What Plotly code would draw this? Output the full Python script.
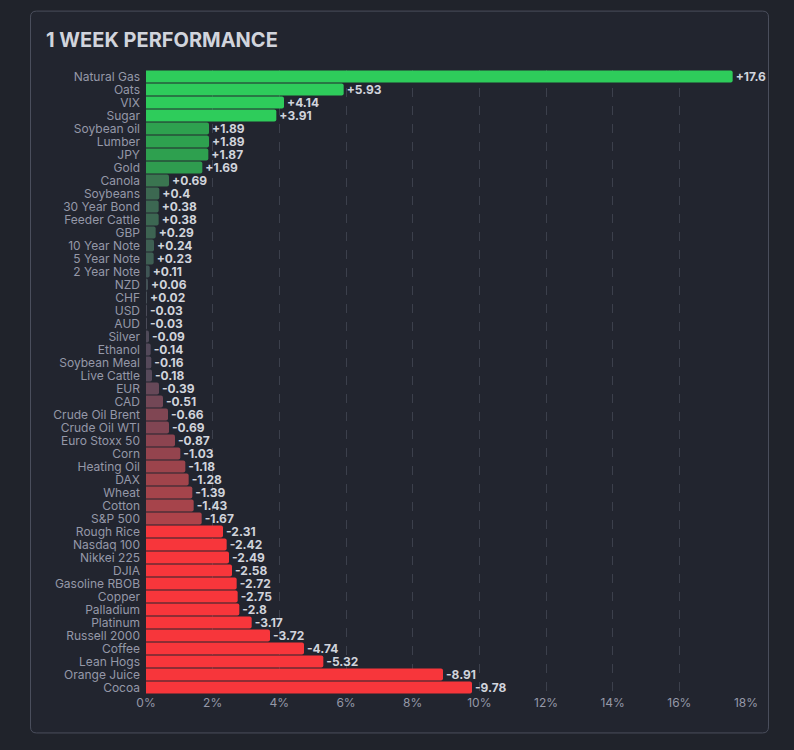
import plotly.graph_objects as go

categories = ["Natural Gas", "Oats", "VIX", "Sugar", "Soybean oil", "Lumber", "JPY", "Gold",
              "Canola", "Soybeans", "30 Year Bond", "Feeder Cattle", "GBP", "10 Year Note",
              "5 Year Note", "2 Year Note", "NZD", "CHF", "USD", "AUD", "Silver", "Ethanol",
              "Soybean Meal", "Live Cattle", "EUR", "CAD", "Crude Oil Brent", "Crude Oil WTI",
              "Euro Stoxx 50", "Corn", "Heating Oil", "DAX", "Wheat", "Cotton", "S&P 500",
              "Rough Rice", "Nasdaq 100", "Nikkei 225", "DJIA", "Gasoline RBOB", "Copper",
              "Palladium", "Platinum", "Russell 2000", "Coffee", "Lean Hogs", "Orange Juice", "Cocoa"]
changes = [17.6, 5.93, 4.14, 3.91, 1.89, 1.89, 1.87, 1.69,
           0.69, 0.4, 0.38, 0.38, 0.29, 0.24,
           0.23, 0.11, 0.06, 0.02, -0.03, -0.03, -0.09, -0.14,
           -0.16, -0.18, -0.39, -0.51, -0.66, -0.69,
           -0.87, -1.03, -1.18, -1.28, -1.39, -1.43, -1.67,
           -2.31, -2.42, -2.49, -2.58, -2.72, -2.75,
           -2.8, -3.17, -3.72, -4.74, -5.32, -8.91, -9.78]
x_ticks = [0, 2, 4, 6, 8, 10, 12, 14, 16, 18]
x_tick_labels = ["0%", "2%", "4%", "6%", "8%", "10%", "12%", "14%", "16%", "18%"]

magnitudes = [abs(v) for v in changes]
labels = [f"{v:+g}" for v in changes]

# value -> colour, cmin=-3, cmax=3 ; normalized n = (v+3)/6
def n(v):
    return (v + 3) / 6

colorscale = [
    [0.0, "#f7363b"],
    [n(-2.0), "#f7363b"],
    [n(-1.999), "#b6434a"],
    [n(-1.3), "#a2444b"],
    [n(-0.87), "#8c4450"],
    [n(-0.6), "#7c4654"],
    [n(-0.39), "#664858"],
    [n(-0.15), "#54495a"],
    [n(0.0), "#474c58"],
    [n(0.11), "#3f5555"],
    [n(0.3), "#3d6452"],
    [n(0.69), "#3a7550"],
    [n(1.2), "#348a50"],
    [n(1.69), "#2f9c4f"],
    [n(1.999), "#2ea34f"],
    [n(2.0), "#2ecc5b"],
    [1.0, "#2ecc5b"],
]

W, H = 786, 742
pl, pr, pt, pb = 138, 48, 61.5, 55.5

fig = go.Figure(go.Bar(
    y=categories,
    x=magnitudes,
    orientation="h",
    text=labels,
    textposition="outside",
    textfont=dict(family="Inter, sans-serif", size=12, color="#d1d4dc", weight="bold"),
    constraintext="none",
    cliponaxis=False,
    marker=dict(color=changes, colorscale=colorscale, cmin=-3, cmax=3,
                line=dict(width=0), cornerradius=2),
    hoverinfo="skip",
))

pw, ph = W - pl - pr, H - pt - pb
def px(x):
    return (x - pl) / pw
def py(y):
    return (H - pb - y) / ph
x0, x1, y0, y1, r = 22.5, 760.5, 2.5, 725.5, 6
path = (f"M {px(x0 + r)} {py(y0)} L {px(x1 - r)} {py(y0)} "
        f"Q {px(x1)} {py(y0)} {px(x1)} {py(y0 + r)} L {px(x1)} {py(y1 - r)} "
        f"Q {px(x1)} {py(y1)} {px(x1 - r)} {py(y1)} L {px(x0 + r)} {py(y1)} "
        f"Q {px(x0)} {py(y1)} {px(x0)} {py(y1 - r)} L {px(x0)} {py(y0 + r)} "
        f"Q {px(x0)} {py(y0)} {px(x0 + r)} {py(y0)} Z")

fig.update_layout(
    width=W, height=H,
    paper_bgcolor="#20232b",
    plot_bgcolor="rgba(0,0,0,0)",
    margin=dict(l=pl, r=pr, t=pt, b=pb),
    bargap=0.08,
    showlegend=False,
    font=dict(family="Inter, sans-serif", color="#9598a8", size=12),
    title=dict(text="<b>1 WEEK PERFORMANCE</b>", x=38 / W, xanchor="left",
               y=1 - 32 / H, yanchor="middle",
               font=dict(family="Inter, sans-serif", size=20, color="#d1d4dc")),
    xaxis=dict(range=[0, 18], tickvals=x_ticks, ticktext=x_tick_labels,
               showgrid=True, gridcolor="#3c404c", griddash="dash", gridwidth=1,
               zeroline=False, showline=False, ticks="", fixedrange=True,
               tickfont=dict(size=12, color="#9598a8")),
    yaxis=dict(autorange="reversed", showgrid=False, zeroline=False, ticks="",
               tickmode="array", tickvals=categories,
               ticklabelstandoff=5, tickfont=dict(size=12, color="#9598a8")),
    shapes=[dict(type="path", xref="paper", yref="paper", layer="below",
                 path=path, fillcolor="#22252f",
                 line=dict(color="#4a4e5c", width=1))],
)

fig.write_html(
    "out.html",
    post_script="document.documentElement.style.background='#20232b';"
                "document.body.style.background='#20232b';",
)
